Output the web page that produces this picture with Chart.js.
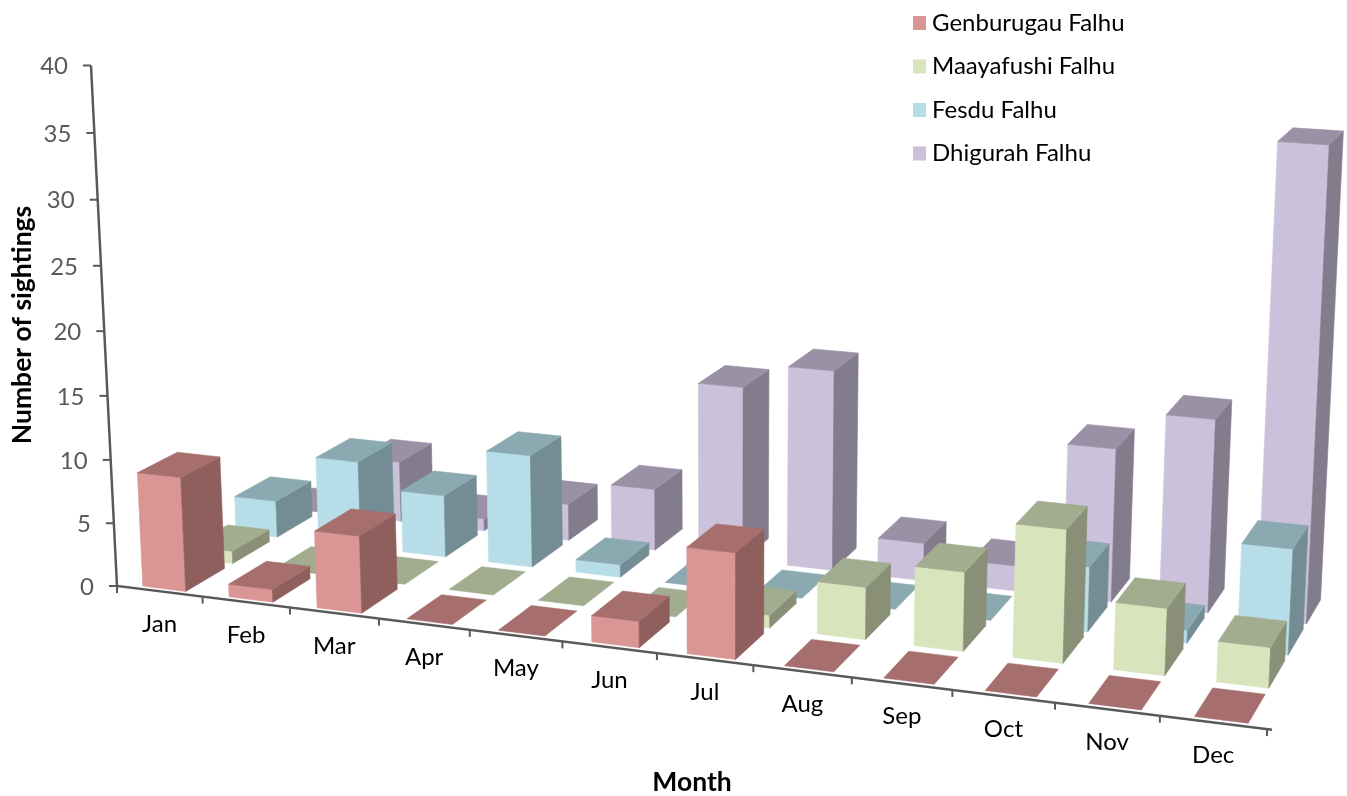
<!DOCTYPE html>
<html>
<head>
<meta charset="utf-8">
<script src="https://cdn.jsdelivr.net/npm/chart.js@4"></script>
<style>html,body{margin:0;padding:0;background:#fff}canvas{display:block}</style>
</head>
<body>
<canvas id="c" width="1347" height="796"></canvas>
<script>
const months = ['Jan','Feb','Mar','Apr','May','Jun','Jul','Aug','Sep','Oct','Nov','Dec'];
const genburugau = [9,1,6,0,0,2,8,0,0,0,0,0];
const maayafushi = [1,0,0,0,0,0,1,4,6,10,5,3];
const fesdu      = [3,7,5,9,1,0,0,0,0,5,1,8];
const dhigurah   = [0,5,1,3,5,14,16,3,2,12,15,36];
const seriesNames = ['Genburugau Falhu','Maayafushi Falhu','Fesdu Falhu','Dhigurah Falhu'];
const seriesValues = [genburugau,maayafushi,fesdu,dhigurah];
const frontColors = ['#D99694','#D7E4BC','#B7DEE8','#CCC1DA'];
const topColors   = ['#A66F6D','#A2AC8E','#8BA9B1','#9B91A6'];
const sideColors  = ['#8E5F5D','#8A9078','#748D94','#827C8D'];

// camera: homography of the floor plane plus a vertical vanishing point
const H = {a:1004.3,b:212.6,c:117,d:59.2,e:-49,f:586,g:-0.115,h:0.11};
const VP = [727,12792], C0 = -0.0409;
const BAR_W = 0.5, BAR_D = 0.82, BAR_SHIFT = 1.005;

function cam(u,v,w){
  const z=H.g*u+H.h*v+1+w*C0;
  return [(H.a*u+H.b*v+H.c+w*C0*VP[0])/z,(H.d*u+H.e*v+H.f+w*C0*VP[1])/z];
}

function poly(ctx,pts,color){
  ctx.beginPath();
  pts.forEach((p,i)=>i?ctx.lineTo(p[0],p[1]):ctx.moveTo(p[0],p[1]));
  ctx.closePath();
  ctx.fillStyle=color;ctx.strokeStyle=color;ctx.lineWidth=0.6;
  ctx.fill();ctx.stroke();
}

const bars3d={
  id:'bars3d',
  afterLayout(chart){
    const lg=chart.legend;
    const pad=lg.options.labels.padding;
    lg.left=919-pad;lg.right=1347;lg.top=11-pad;lg.bottom=300;
  },
  beforeDraw(chart){
    chart.ctx.save();chart.ctx.fillStyle='#fff';chart.ctx.fillRect(0,0,chart.width,chart.height);chart.ctx.restore();
  },
  beforeDatasetsDraw(chart){
    const ctx=chart.ctx,xs=chart.scales.x,ys=chart.scales.y;
    const U=i=>(xs.getPixelForValue(i)-xs.left)/xs.width;
    const W=v=>(ys.bottom-ys.getPixelForValue(v))/ys.height;
    const cw=1/months.length,sd=1/seriesValues.length;
    // axes
    ctx.save();
    ctx.strokeStyle='#595959';ctx.lineCap='butt';
    const o=cam(0,0,0),t=cam(0,0,1),e=cam(1,0,0);
    ctx.lineWidth=2.5;ctx.beginPath();ctx.moveTo(t[0],t[1]);ctx.lineTo(o[0],o[1]);ctx.lineTo(e[0]+5,e[1]+0.6);ctx.stroke();
    ctx.lineWidth=2;
    ctx.textBaseline='middle';
    ys.ticks.forEach(tk=>{
      const p=cam(0,0,W(tk.value));
      ctx.beginPath();ctx.moveTo(p[0],p[1]);ctx.lineTo(p[0]-8,p[1]);ctx.stroke();
      ctx.fillStyle='#595959';ctx.textAlign='right';ctx.font='24px Lato';
      ctx.fillText(String(tk.value),p[0]-23,p[1]+1);
    });
    for(let i=0;i<=months.length;i++){
      const p=cam(i*cw,0,0);
      ctx.beginPath();ctx.moveTo(p[0],p[1]);ctx.lineTo(p[0],p[1]+7);ctx.stroke();
    }
    months.forEach((m,i)=>{
      const p=cam(U(i),0,0);
      ctx.fillStyle='#000';ctx.textAlign='center';ctx.font='24px Lato';
      ctx.fillText(m,p[0],p[1]+33);
    });
    ctx.font='bold 26.5px Lato';ctx.fillStyle='#000';
    ctx.fillText('Month',692,782);
    ctx.save();ctx.translate(22,325);ctx.rotate(-Math.PI/2);ctx.fillText('Number of sightings',0,0);ctx.restore();
    // bars, back to front
    for(let s=seriesValues.length-1;s>=0;s--){
      const vals=chart.data.datasets[s].data;
      vals.forEach((val,i)=>{
        const uc=U(i),u0=(uc-cw*BAR_W/2)*BAR_SHIFT,u1=(uc+cw*BAR_W/2)*BAR_SHIFT;
        const vc=(s+0.5)*sd,v0=vc-sd*BAR_D/2,v1=vc+sd*BAR_D/2;
        const w=W(val);
        const A=cam(u0,v0,0),B=cam(u1,v0,0),C=cam(u1,v1,0);
        const A2=cam(u0,v0,w),B2=cam(u1,v0,w),C2=cam(u1,v1,w),D2=cam(u0,v1,w);
        if(val>0){
          poly(ctx,[A,B,B2,A2],frontColors[s]);
          poly(ctx,[B,C,C2,B2],sideColors[s]);
        }
        poly(ctx,[A2,B2,C2,D2],topColors[s]);
      });
    }
    ctx.restore();
    return false;
  }
};

new Chart(document.getElementById('c'),{
  type:'bar',
  data:{labels:months,datasets:seriesNames.map((n,i)=>({
    label:n,data:seriesValues[i],backgroundColor:frontColors[i],borderColor:frontColors[i],borderWidth:12
  }))},
  options:{
    responsive:false,animation:false,
    plugins:{
      legend:{display:true,position:'right',align:'start',
        labels:{boxWidth:1,boxHeight:2,color:'#000',padding:19.5,font:{family:'Lato',size:24}}},
      tooltip:{enabled:false}
    },
    scales:{
      x:{display:false,type:'category'},
      y:{display:false,min:0,max:40,ticks:{stepSize:5}}
    }
  },
  plugins:[bars3d]
});
</script>
</body>
</html>
